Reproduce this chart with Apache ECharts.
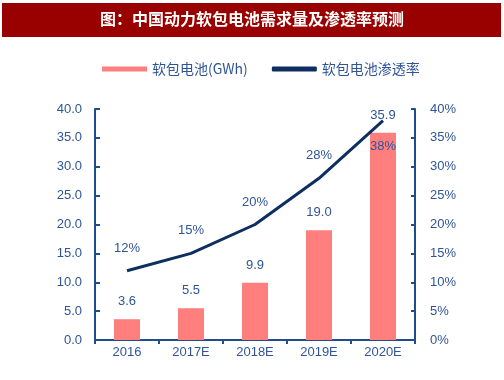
<!DOCTYPE html>
<html>
<head>
<meta charset="utf-8">
<script src="https://cdn.jsdelivr.net/npm/echarts@6/dist/echarts.min.js"></script>
<style>html,body{margin:0;padding:0;background:#fff}#c{width:504px;height:380px}</style>
</head>
<body>
<div id="c"></div>
<script>
const titleText = '图：中国动力软包电池需求量及渗透率预测';
const categories = ['2016', '2017E', '2018E', '2019E', '2020E'];
const barName = '软包电池(GWh)';
const lineName = '软包电池渗透率';
const barValues = [3.6, 5.5, 9.9, 19.0, 35.9];
const lineValues = [12, 15, 20, 28, 38];

const axisColor = '#1F4E8C';
const textColor = '#2F5597';
const font = 'Liberation Sans, Arial, sans-serif';

const chart = echarts.init(document.getElementById('c'), null, {renderer: 'canvas'});
const lastIdx = lineValues.length - 1;
chart.setOption({
  animation: false,
  graphic: [
    {type: 'rect', shape: {x: 2, y: 3, width: 499, height: 34}, style: {fill: '#990000'}, z: 0},
    {type: 'text', left: 'center', top: 11, style: {text: titleText, fill: '#ffffff', font: 'bold 16px "Noto Sans CJK SC", sans-serif'}, z: 1}
  ],
  legend: {
    left: 97, top: 57, itemWidth: 45, itemHeight: 5, itemGap: 24,
    textStyle: {color: textColor, fontSize: 14, fontFamily: '"Noto Sans CJK SC", ' + font},
    data: [
      {name: barName, icon: 'rect'},
      {name: lineName, icon: 'roundRect', itemStyle: {color: '#0D2F5F'}}
    ]
  },
  grid: {left: 95, right: 89, top: 109, bottom: 40},
  xAxis: {
    type: 'category', data: categories, boundaryGap: true,
    axisLine: {lineStyle: {color: axisColor, width: 2}},
    axisTick: {show: true, inside: false, length: 4, lineStyle: {color: axisColor, width: 2}},
    axisLabel: {color: textColor, fontSize: 13, fontFamily: font, margin: 6}
  },
  yAxis: [
    {
      type: 'value', min: 0, max: 40, interval: 5,
      axisLine: {show: true, lineStyle: {color: axisColor, width: 2}},
      axisTick: {show: true, inside: true, length: 5, lineStyle: {color: axisColor, width: 2}},
      splitLine: {show: false},
      axisLabel: {color: textColor, fontSize: 13, fontFamily: font, margin: 13, formatter: v => v.toFixed(1)}
    },
    {
      type: 'value', min: 0, max: 40, interval: 5, position: 'right',
      axisLine: {show: true, lineStyle: {color: axisColor, width: 2}},
      axisTick: {show: true, inside: true, length: 4, lineStyle: {color: axisColor, width: 2}},
      splitLine: {show: false},
      axisLabel: {color: textColor, fontSize: 13, fontFamily: font, margin: 15, formatter: '{value}%'}
    }
  ],
  series: [
    {
      name: barName, type: 'bar', data: barValues, barWidth: 26,
      itemStyle: {color: '#FF7F7F'},
      label: {show: true, position: 'top', distance: 11, color: textColor, fontSize: 13, fontFamily: font, formatter: p => p.value.toFixed(1)}
    },
    {
      name: lineName, type: 'line', yAxisIndex: 1, showSymbol: true, symbol: 'circle', symbolSize: 0.1,
      data: lineValues.map((v, i) => i === lastIdx ? {value: v, label: {position: 'bottom', distance: 19}} : v),
      lineStyle: {color: '#0D2F5F', width: 3},
      itemStyle: {color: '#0D2F5F'},
      label: {show: true, position: 'top', distance: 16, color: textColor, fontSize: 13, fontFamily: font, formatter: '{c}%'},
      z: 3
    }
  ]
});
</script>
</body>
</html>
